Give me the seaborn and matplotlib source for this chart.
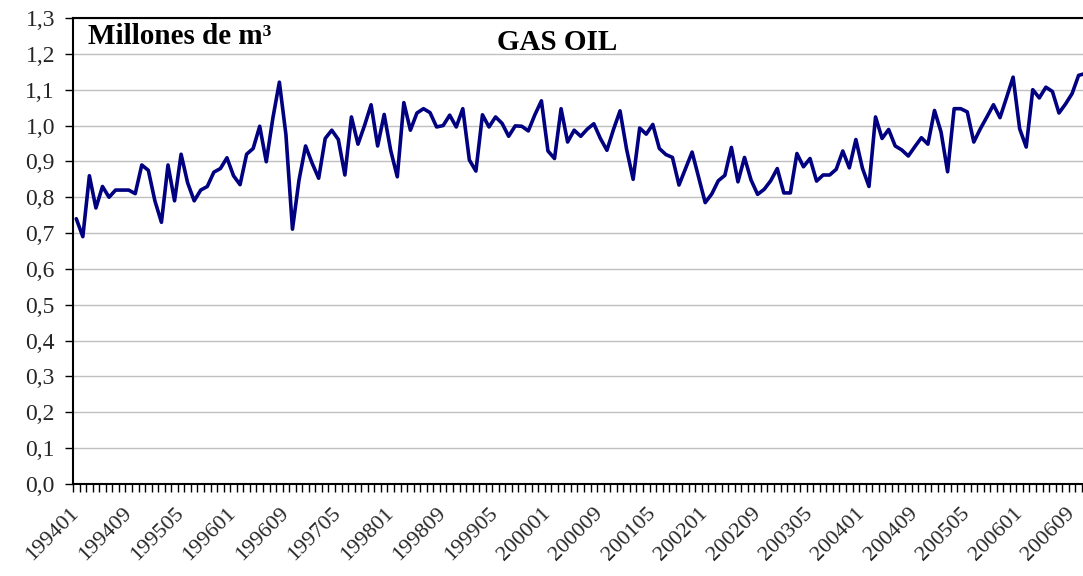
import matplotlib
matplotlib.use("Agg")
import matplotlib.pyplot as plt
import seaborn as sns
import numpy as np
import pandas as pd
from matplotlib.ticker import FixedLocator, FuncFormatter

# ---- data -------------------------------------------------------------
years = list(range(1994, 2007))
periods = [f"{y}{m:02d}" for y in years for m in range(1, 13)]

values = [
    0.74, 0.69, 0.86, 0.77, 0.83, 0.80, 0.82, 0.82, 0.82, 0.81,
    0.89, 0.875, 0.79, 0.73, 0.89, 0.79, 0.92, 0.84, 0.79, 0.82,
    0.83, 0.87, 0.88, 0.91, 0.86, 0.835, 0.92, 0.936, 0.998, 0.899,
    1.02, 1.121, 0.975, 0.711, 0.848, 0.943, 0.895, 0.853, 0.964, 0.987,
    0.961, 0.862, 1.024, 0.948, 1.00, 1.058, 0.943, 1.031, 0.93, 0.857,
    1.064, 0.987, 1.035, 1.047, 1.036, 0.996, 1.00, 1.029, 0.996, 1.047,
    0.904, 0.873, 1.03, 0.996, 1.024, 1.006, 0.97, 0.999, 0.998, 0.985,
    1.03, 1.069, 0.929, 0.908, 1.047, 0.954, 0.987, 0.970, 0.99, 1.005,
    0.964, 0.931, 0.989, 1.041, 0.934, 0.850, 0.993, 0.976, 1.003, 0.936,
    0.919, 0.911, 0.834, 0.88, 0.926, 0.855, 0.785, 0.809, 0.846, 0.861,
    0.939, 0.843, 0.911, 0.848, 0.808, 0.822, 0.846, 0.880, 0.812, 0.812,
    0.922, 0.885, 0.908, 0.845, 0.862, 0.862, 0.878, 0.929, 0.882, 0.961,
    0.881, 0.830, 1.024, 0.964, 0.989, 0.943, 0.932, 0.915, 0.941, 0.966,
    0.948, 1.042, 0.982, 0.871, 1.047, 1.047, 1.038, 0.954, 0.991, 1.024,
    1.058, 1.022, 1.078, 1.135, 0.991, 0.94, 1.10, 1.077, 1.107, 1.095,
    1.035, 1.06, 1.089, 1.14, 1.145, 1.15,
]

tick_labels = ["199401", "199409", "199505", "199601", "199609", "199705",
               "199801", "199809", "199905", "200001", "200009", "200105",
               "200201", "200209", "200305", "200401", "200409", "200505",
               "200601", "200609"]

y_ticks = [0.0, 0.1, 0.2, 0.3, 0.4, 0.5, 0.6, 0.7, 0.8, 0.9, 1.0, 1.1, 1.2, 1.3]

title = "GAS OIL"
unit_label = "Millones de m\u00b3"

# ---- plot -------------------------------------------------------------
sns.set_theme(style="white")
plt.rcParams["font.family"] = ["Liberation Serif", "DejaVu Serif"]

W, H = 1083, 576
fig = plt.figure(figsize=(W / 100, H / 100), dpi=100)
left, right, top, bottom = 73, 1095, 18, 484
ax = fig.add_axes([left / W, (H - bottom) / H, (right - left) / W, (bottom - top) / H])

df = pd.DataFrame({"period": periods, "value": values})
df["pos"] = [periods.index(p) for p in df["period"]]

sns.lineplot(data=df, x="pos", y="value", ax=ax, color="#000080",
             linewidth=2.6, zorder=3, clip_on=True)

ax.set_xlim(-0.5, len(periods) - 0.5)
ax.set_ylim(0, 1.3)

# y axis
ax.yaxis.set_major_locator(FixedLocator(y_ticks))
ax.yaxis.set_major_formatter(FuncFormatter(lambda v, p: f"{v:.1f}".replace(".", ",")))
ax.grid(axis="y", color="#c0c0c0", linewidth=1.0, zorder=0)
ax.grid(axis="x", visible=False)
ax.tick_params(axis="y", which="major", direction="out", length=6, width=1,
               color="black", labelsize=17, pad=7, left=True)

# x axis
label_pos = [periods.index(t) for t in tick_labels]
ax.xaxis.set_major_locator(FixedLocator(label_pos))
ax.set_xticklabels(tick_labels, rotation=45, ha="right", va="center",
                   rotation_mode="anchor", fontsize=16)
ax.xaxis.set_minor_locator(FixedLocator(np.arange(-0.5, len(periods), 1.0)))
ax.tick_params(axis="x", which="major", length=0, pad=19)
ax.tick_params(axis="x", which="minor", direction="out", length=6, width=1,
               color="black", bottom=True)

ax.set_xlabel("")
ax.set_ylabel("")

for side in ["left", "bottom", "top", "right"]:
    ax.spines[side].set_visible(True)
    ax.spines[side].set_color("black")
    ax.spines[side].set_linewidth(1.5)

fig.text(88 / W, 1 - 37 / H, unit_label, fontsize=21, fontweight="bold",
         ha="left", va="center", color="black")
fig.text(557 / W, 1 - 42 / H, title, fontsize=21, fontweight="bold",
         ha="center", va="center", color="black")

fig.savefig("out.png", dpi=100)
